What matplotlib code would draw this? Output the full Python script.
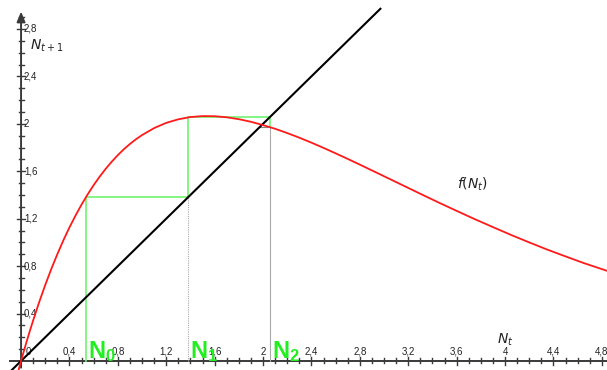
import numpy as np
import matplotlib
matplotlib.use('Agg')
import matplotlib.pyplot as plt

plt.rcParams['mathtext.fontset'] = 'custom'
plt.rcParams['mathtext.rm'] = 'DejaVu Sans'
plt.rcParams['mathtext.it'] = 'DejaVu Sans:italic'
plt.rcParams['mathtext.bf'] = 'Liberation Sans:bold'

# red curve f(N_t)
curve_n = [-0.02, 0, 0.025, 0.05, 0.075, 0.1, 0.15, 0.2, 0.25, 0.3, 0.35, 0.4, 0.45,
           0.5, 0.55, 0.6, 0.65, 0.7, 0.75, 0.8, 0.85, 0.9, 0.95, 1.0, 1.1, 1.2,
           1.3, 1.4, 1.5, 1.6, 1.7, 1.8, 1.9, 2.0, 2.1, 2.2, 2.3, 2.4, 2.5, 2.6,
           2.7, 2.8, 2.9, 3.0, 3.15, 3.3, 3.45, 3.6, 3.75, 3.9, 4.05, 4.2, 4.35,
           4.5, 4.65, 4.85]
curve_f = [-0.075, 0, 0.090, 0.177, 0.261, 0.342, 0.497, 0.641, 0.776, 0.901, 1.018,
           1.126, 1.226, 1.319, 1.404, 1.483, 1.555, 1.621, 1.681, 1.736, 1.786,
           1.830, 1.870, 1.905, 1.964, 2.008, 2.038, 2.057, 2.065, 2.064, 2.055,
           2.039, 2.017, 1.989, 1.958, 1.922, 1.883, 1.841, 1.797, 1.751, 1.704,
           1.656, 1.607, 1.558, 1.484, 1.410, 1.337, 1.266, 1.196, 1.129, 1.063,
           1.000, 0.939, 0.882, 0.826, 0.758]

# diagonal N_{t+1} = N_t
diag_n = [-0.09, 2.97]

# cobweb iterates
iter_n = [0.54, 1.38, 2.06]
iter_f = [1.38, 2.06, 1.97]
iter_names = ['$\\mathbf{N_0}$', '$\\mathbf{N_1}$', '$\\mathbf{N_2}$']

x_ticks = [0.4, 0.8, 1.2, 1.6, 2.0, 2.4, 2.8, 3.2, 3.6, 4.0, 4.4, 4.8]
y_ticks = [0.4, 0.8, 1.2, 1.6, 2.0, 2.4, 2.8]

def fmt(v):
    s = ('%.1f' % v).replace('.', ',')
    return s[:-2] if s.endswith(',0') else s

fig = plt.figure(figsize=(6.07, 3.70), dpi=100)
ax = fig.add_axes([0, 0, 1, 1])
ax.set_xlim(-0.174, 4.843)
ax.set_ylim(-0.076, 3.044)
ax.axis('off')

axis_col = '#3a3a3a'
ax.plot([-0.09, 4.843], [0, 0], color=axis_col, lw=1.4, zorder=2)
ax.annotate('', xy=(0, 2.97), xytext=(0, -0.08),
            arrowprops=dict(arrowstyle='-|>,head_width=0.25,head_length=0.6',
                            color=axis_col, lw=1.4), zorder=2)

# ticks
sx = 1 / 121.0
sy = 1 / 118.6
for v in np.arange(0.1, 4.85, 0.1):
    major = abs(v / 0.4 - round(v / 0.4)) < 1e-6
    h = (4 if major else 2.5) * sy
    ax.plot([v, v], [-h, h], color=axis_col, lw=1, zorder=2)
for v in np.arange(0.1, 2.95, 0.1):
    major = abs(v / 0.4 - round(v / 0.4)) < 1e-6
    w = (4 if major else 2.5) * sx
    ax.plot([-w, w], [v, v], color=axis_col, lw=1, zorder=2)

for v in x_ticks:
    ax.text(v, 4 * sy, fmt(v), ha='center', va='bottom', fontsize=7,
            family='Liberation Sans', color='#222222')
ax.text(7 * sx, 4 * sy, '0', ha='center', va='bottom', fontsize=7,
        family='Liberation Sans', color='#222222')
for v in y_ticks:
    ax.text(3 * sx, v, fmt(v), ha='left', va='center', fontsize=7,
            family='Liberation Sans', color='#222222')

# cobweb lines
green = '#70f570'
grey = '#aaaaaa'
n0, n1, n2 = iter_n
ax.plot([n0, n0, n1, n1, n2, n2], [0, iter_f[0], iter_f[0], iter_f[1], iter_f[1], iter_f[2]],
        color=green, lw=1.2, zorder=3)
ax.plot([n1, n1], [0, n1], color=grey, lw=0.8, ls=(0, (1, 1)), zorder=3)
ax.plot([n2, n2], [0, iter_f[2]], color=grey, lw=0.8, zorder=3)
ax.plot([iter_f[2], n2], [iter_f[2], iter_f[2]], color='#888888', lw=0.8, zorder=3)

ax.plot(diag_n, diag_n, color='black', lw=1.5, zorder=4)
ax.plot(curve_n, curve_f, color='#ff1a1a', lw=1.3, zorder=5)

for n, name in zip(iter_n, iter_names):
    ax.text(n + 2 * sx, 3 * sy, name, color='#22ee22', fontsize=17,
            ha='left', va='baseline', zorder=6)

ax.text(0.07, 2.66, '$N_{t+1}$', fontsize=10, ha='left', va='center', color='#222222')
ax.text(3.93, 0.18, '$N_t$', fontsize=10, ha='left', va='center', color='#222222')
ax.text(3.6, 1.49, '$f(N_t)$', fontsize=10, ha='left', va='center', color='#222222')

fig.savefig('out.png', dpi=100)
